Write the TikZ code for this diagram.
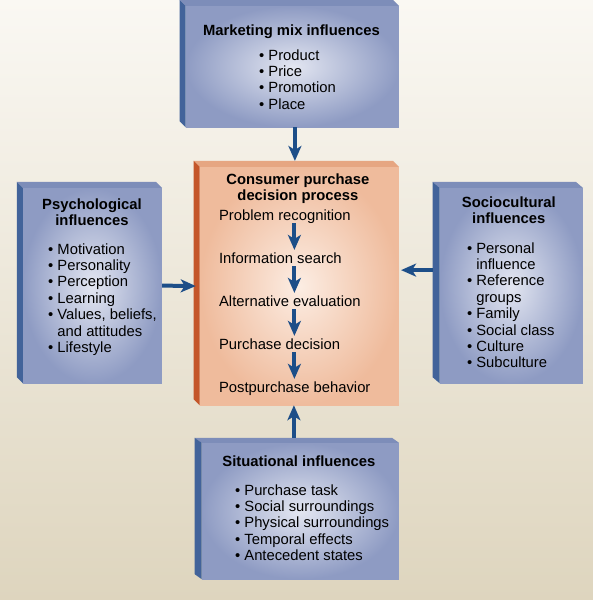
\documentclass[tikz,border=0pt]{standalone}
\usepackage{fontspec}
\setmainfont{Liberation Sans}
\usetikzlibrary{arrows.meta}
\definecolor{bgtop}{HTML}{FAF8F3}
\definecolor{bgbot}{HTML}{DED5BE}
\definecolor{bluein}{HTML}{E3E6F1}
\definecolor{blueout}{HTML}{8E9BC3}
\definecolor{bluetop}{HTML}{7D8DB9}
\definecolor{blueside}{HTML}{42639A}
\definecolor{peachin}{HTML}{FCEDE3}
\definecolor{peachout}{HTML}{EFBB9C}
\definecolor{peachtop}{HTML}{E6A682}
\definecolor{peachside}{HTML}{C4562A}
\definecolor{arrblue}{HTML}{1D4E88}

\begin{document}
\begin{tikzpicture}[x=1pt,y=-1pt,
	bluebox/.style={shape=rectangle,inner sep=0pt,inner color=bluein,outer color=blueout},
	peachbox/.style={shape=rectangle,inner sep=0pt,inner color=peachin,outer color=peachout},
	txt/.style={inner sep=0pt,font=\fontsize{14.8}{16.4}\selectfont},
	head/.style={txt,anchor=base,font=\fontsize{14.8}{16.4}\selectfont\bfseries},
	list/.style={txt,anchor=base west},
	stage/.style={txt,anchor=base west,text height=11pt,text depth=3pt},
	arr/.style={draw=arrblue,line width=4pt,-{Stealth[length=15pt,width=13pt,inset=4pt]}}]
	\shade[top color=bgtop,bottom color=bgbot] (0,0) rectangle (593,600);

	\node[bluebox,minimum width=213pt,minimum height=121pt] (M) at (292.5,66.5) {};
	\node[peachbox,minimum width=199pt,minimum height=238pt] (C) at (299.5,286) {};
	\node[bluebox,minimum width=139pt,minimum height=195pt] (P) at (92.5,285.5) {};
	\node[bluebox,minimum width=143pt,minimum height=195pt] (S) at (511.5,285.5) {};
	\node[bluebox,minimum width=197pt,minimum height=136pt] (T) at (300.5,511) {};

	\fill[bluetop] (M.north west) -- ++(-6,-6) -- ([shift={(-6,-6)}]M.north east) -- (M.north east) -- cycle;
	\fill[blueside] (M.north west) -- ++(-6,-6) -- ([shift={(-6,-6)}]M.south west) -- (M.south west) -- cycle;
	\fill[peachtop] (C.north west) -- ++(-6,-6) -- ([shift={(-6,-6)}]C.north east) -- (C.north east) -- cycle;
	\fill[peachside] (C.north west) -- ++(-6,-6) -- ([shift={(-6,-6)}]C.south west) -- (C.south west) -- cycle;
	\fill[bluetop] (P.north west) -- ++(-6,-6) -- ([shift={(-6,-6)}]P.north east) -- (P.north east) -- cycle;
	\fill[blueside] (P.north west) -- ++(-6,-6) -- ([shift={(-6,-6)}]P.south west) -- (P.south west) -- cycle;
	\fill[bluetop] (S.north west) -- ++(-7,-6) -- ([shift={(-7,-6)}]S.north east) -- (S.north east) -- cycle;
	\fill[blueside] (S.north west) -- ++(-7,-6) -- ([shift={(-7,-6)}]S.south west) -- (S.south west) -- cycle;
	\fill[bluetop] (T.north west) -- ++(-7,-5) -- ([shift={(-7,-5)}]T.north east) -- (T.north east) -- cycle;
	\fill[blueside] (T.north west) -- ++(-7,-5) -- ([shift={(-7,-5)}]T.south west) -- (T.south west) -- cycle;

	\node[head] (Mt) at (291.5,35) {Marketing mix influences};
	\node[list] (Ml) at (259,60) {\begin{tabular}[t]{@{}l@{}}\textbullet\ Product\\ \textbullet\ Price\\ \textbullet\ Promotion\\ \textbullet\ Place\end{tabular}};

	\node[head] (Ct) at (298,184) {\begin{tabular}[t]{@{}c@{}}Consumer purchase\\ decision process\end{tabular}};
	\node[stage] (C1) at (219,220) {Problem recognition};
	\node[stage] (C2) at (219,263) {Information search};
	\node[stage] (C3) at (219,306) {Alternative evaluation};
	\node[stage] (C4) at (219,349) {Purchase decision};
	\node[stage] (C5) at (219,392) {Postpurchase behavior};

	\node[head] (Pt) at (92,209) {\begin{tabular}[t]{@{}c@{}}Psychological\\ influences\end{tabular}};
	\node[list] (Pl) at (48,254) {\begin{tabular}[t]{@{}l@{}}\textbullet\ Motivation\\ \textbullet\ Personality\\ \textbullet\ Perception\\ \textbullet\ Learning\\ \textbullet\ Values, beliefs,\\ \hphantom{\textbullet\ }and attitudes\\ \textbullet\ Lifestyle\end{tabular}};

	\node[head] (St) at (509,207) {\begin{tabular}[t]{@{}c@{}}Sociocultural\\ influences\end{tabular}};
	\node[list] (Sl) at (467,253) {\begin{tabular}[t]{@{}l@{}}\textbullet\ Personal\\ \hphantom{\textbullet\ }influence\\ \textbullet\ Reference\\ \hphantom{\textbullet\ }groups\\ \textbullet\ Family\\ \textbullet\ Social class\\ \textbullet\ Culture\\ \textbullet\ Subculture\end{tabular}};

	\node[head] (Tt) at (299,466) {Situational influences};
	\node[list] (Tl) at (235,495) {\begin{tabular}[t]{@{}l@{}}\textbullet\ Purchase task\\ \textbullet\ Social surroundings\\ \textbullet\ Physical surroundings\\ \textbullet\ Temporal effects\\ \textbullet\ Antecedent states\end{tabular}};

	\coordinate (ax) at (294.5,0);
	\path (C1.south -| ax) edge[arr,shorten >=2pt] (C2.north -| ax);
	\path (C2.south -| ax) edge[arr,shorten >=2pt] (C3.north -| ax);
	\path (C3.south -| ax) edge[arr,shorten >=2pt] (C4.north -| ax);
	\path (C4.south -| ax) edge[arr,shorten >=2pt] (C5.north -| ax);

	\path ([xshift=2.5pt]M.south) edge[arr] ([xshift=-4.5pt,yshift=6pt]C.north);
	\path (P.east) edge[arr,shorten >=4pt] (C.west);
	\path ([xshift=-7pt,yshift=15.5pt]S.west) edge[arr,shorten >=2pt] ([yshift=16pt]C.east);
	\path ([xshift=-6.5pt,yshift=5pt]T.north) edge[arr] ([xshift=-5.5pt]C.south);
\end{tikzpicture}
\end{document}
